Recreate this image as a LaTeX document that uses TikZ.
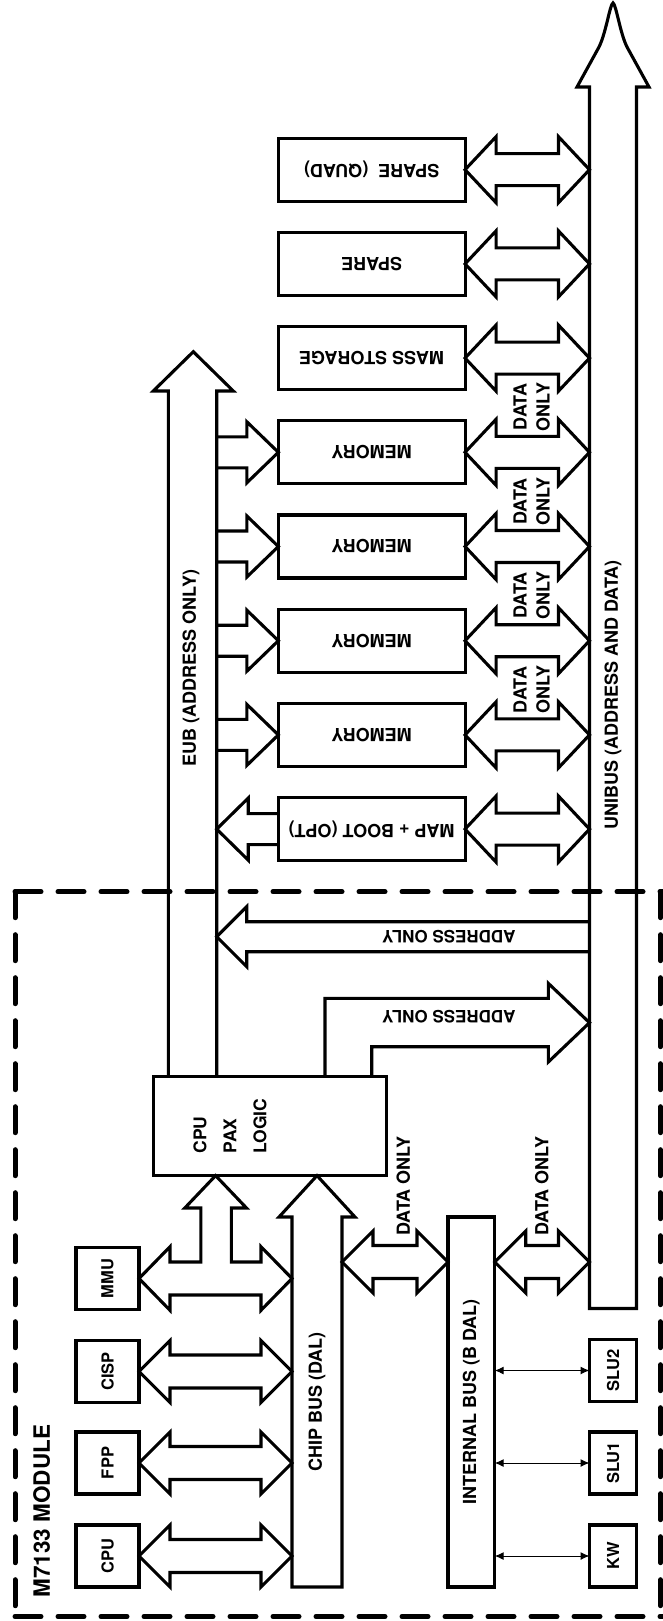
\documentclass[tikz,border=0pt]{standalone}
\usepackage{fontspec}
\setmainfont{TeX Gyre Heros}
\usetikzlibrary{arrows.meta,calc}
\newcommand\DblArrow[4]{\draw[fat] let \p1=#1, \p2=#2 in
  (\x1,\y1) -- (\x1+31pt,\y1+#3pt) -- (\x1+31pt,\y1+#4pt) -- (\x2-31pt,\y1+#4pt)
  -- (\x2-31pt,\y1+#3pt) -- (\x2,\y1) -- (\x2-31pt,\y1-#3pt) -- (\x2-31pt,\y1-#4pt)
  -- (\x1+31pt,\y1-#4pt) -- (\x1+31pt,\y1-#3pt) -- cycle;}
\begin{document}
\begin{tikzpicture}[x=1pt,y=-1pt,
  fat/.style={draw, line width=3.1pt, line join=miter},
  box/.style={draw, line width=3.1pt, inner sep=0pt, outer sep=0pt, anchor=center},
  lbl/.style={font=\fontsize{18}{23}\selectfont\bfseries, inner sep=0pt, align=center},
  slbl/.style={font=\fontsize{16.5}{20}\selectfont\bfseries},
  thinarr/.style={line width=1pt, {Latex[length=9pt,width=8pt]}-{Latex[length=9pt,width=8pt]}},
  border/.style={line width=5pt, dash pattern=on 26pt off 17pt, line cap=round}]
\useasboundingbox (0,0) rectangle (663,1621);

% module border
\draw[border] (15,891.7) -- (663,891.7);
\draw[border] (15,891.7) -- (15,1616.5);
\draw[border] (15,1616.5) -- (663,1616.5);
\draw[border] (660.5,891.7) -- (660.5,1616.5);
\node[lbl, font=\fontsize{22.5}{26}\selectfont\bfseries, rotate=90] (modlbl) at (41.7,1511) {M7133 MODULE};

% bus reference coordinates
\coordinate (eubR) at (216.7,0);
\coordinate (ubL) at (589.5,0);
\coordinate (chipL) at (292,0);
\coordinate (cb) at (342,1262);

% chip components
\node[box, minimum width=63pt, minimum height=62pt, slbl] (cpu) at (107.5,1556) {\rotatebox{90}{CPU}};
\node[box, minimum width=63pt, minimum height=62pt, slbl] (fpp) at (107.5,1463) {\rotatebox{90}{FPP}};
\node[box, minimum width=63pt, minimum height=62pt, slbl] (cisp) at (107.5,1371.5) {\rotatebox{90}{CISP}};
\node[box, minimum width=63pt, minimum height=62pt, slbl] (mmu) at (107.5,1278.5) {\rotatebox{90}{MMU}};

% CPU PAX logic
\node[box, minimum width=233.4pt, minimum height=98.3pt] (pax) at (270,1125.9) {};
\node[lbl, font=\fontsize{17.5}{30}\selectfont\bfseries, rotate=90, align=left] (paxlbl) at (230,1126) {CPU\\PAX\\LOGIC};

% chip bus
\draw[fat] (292,1587) -- (292,1217) -- (279,1217) -- (317,1175.6) -- (355,1217) -- (342,1217) -- (342,1587) -- cycle;
\node[lbl, rotate=90] (chiplbl) at (317,1402) {CHIP BUS (DAL)};

% chip component arrows
\DblArrow{(cpu.east)}{(chipL |- cpu.east)}{31}{16.5}
\DblArrow{(fpp.east)}{(chipL |- fpp.east)}{31}{16.5}
\DblArrow{(cisp.east)}{(chipL |- cisp.east)}{31}{16.5}
\draw[fat] (mmu.east) -- (170,1246.7) -- (170,1262) -- (200.8,1262) -- (200.8,1208) -- (184.8,1208)
  -- (215.6,1175.6) -- (246.5,1208) -- (231.3,1208) -- (231.3,1262) -- (261,1262) -- (261,1246.7)
  -- (292,1278.5) -- (261,1310.3) -- (261,1295) -- (170,1295) -- (170,1310.3) -- cycle;

% internal bus
\node[box, minimum width=46.7pt, minimum height=370pt] (ibus) at (471.35,1402) {\rotatebox{90}{\fontsize{18}{22}\selectfont\bfseries INTERNAL BUS (B DAL)}};
\DblArrow{(cb)}{(ibus.west |- cb)}{31}{16.5}
\DblArrow{(ibus.east |- cb)}{(ubL |- cb)}{31}{16.5}
\node[lbl, rotate=90] (do1) at (403.3,1186) {DATA ONLY};
\node[lbl, rotate=90] (do2) at (541.7,1186) {DATA ONLY};

% SLU / KW
\node[box, minimum width=47pt, minimum height=62pt, slbl] (slu2) at (613,1370.5) {\rotatebox{90}{SLU2}};
\node[box, minimum width=47pt, minimum height=62pt, slbl] (slu1) at (613,1463) {\rotatebox{90}{SLU1}};
\node[box, minimum width=47pt, minimum height=62pt, slbl] (kw) at (613,1556) {\rotatebox{90}{KW}};
\draw[thinarr] (ibus.east |- slu2.west) -- (slu2.west);
\draw[thinarr] (ibus.east |- slu1.west) -- (slu1.west);
\draw[thinarr] (ibus.east |- kw.west) -- (kw.west);

% EUB
\draw[fat] (168.3,1076.7) -- (168.3,391) -- (153.3,391) -- (193.3,351.7) -- (233.3,391) -- (216.7,391) -- (216.7,1076.7);
\node[lbl, rotate=90] (eublbl) at (191,668) {EUB (ADDRESS ONLY)};

% UNIBUS
\draw[fat] (589.5,1308.5) -- (589.5,87) -- (577,87) -- (599,47) .. controls (606,33) and (610,4) .. (613,3)
  .. controls (616,4) and (620,33) .. (627,47) -- (649,87) -- (636.5,87) -- (636.5,1308.5) -- cycle;
\node[lbl, rotate=90] (ublbl) at (613,695) {UNIBUS (ADDRESS AND DATA)};

% address only arrows
\draw[fat] (589.5,921.7) -- (246.7,921.7) -- (246.7,906.7) -- (216.7,936.7) -- (246.7,966.7) -- (246.7,951.7) -- (589.5,951.7);
\node[lbl, rotate=180, font=\fontsize{17}{20}\selectfont\bfseries] (ao1) at (449,936.7) {ADDRESS ONLY};
\draw[fat] (325,1076.7) -- (325,998.3) -- (548.3,998.3) -- (548.3,983.3) -- (589.5,1022.7) -- (548.3,1062) -- (548.3,1046.7) -- (371.7,1046.7) -- (371.7,1076.7);
\node[lbl, rotate=180, font=\fontsize{17}{20}\selectfont\bfseries] (ao2) at (449,1017) {ADDRESS ONLY};

% right column boxes
\node[box, minimum width=186.7pt, minimum height=63pt] (sq) at (371.7,169.7) {\rotatebox{180}{\fontsize{18}{22}\selectfont\bfseries SPARE\ \ (QUAD)}};
\node[box, minimum width=186.7pt, minimum height=63pt] (sp) at (371.7,263.9) {\rotatebox{180}{\fontsize{18}{22}\selectfont\bfseries SPARE}};
\node[box, minimum width=186.7pt, minimum height=63pt] (ms) at (371.7,358.1) {\rotatebox{180}{\fontsize{18}{22}\selectfont\bfseries MASS STORAGE}};
\node[box, minimum width=186.7pt, minimum height=63pt] (m1) at (371.7,452.3) {\rotatebox{180}{\fontsize{18}{22}\selectfont\bfseries MEMORY}};
\node[box, minimum width=186.7pt, minimum height=63pt] (m2) at (371.7,546.5) {\rotatebox{180}{\fontsize{18}{22}\selectfont\bfseries MEMORY}};
\node[box, minimum width=186.7pt, minimum height=63pt] (m3) at (371.7,640.7) {\rotatebox{180}{\fontsize{18}{22}\selectfont\bfseries MEMORY}};
\node[box, minimum width=186.7pt, minimum height=63pt] (m4) at (371.7,734.9) {\rotatebox{180}{\fontsize{18}{22}\selectfont\bfseries MEMORY}};
\node[box, minimum width=186.7pt, minimum height=63pt] (mb) at (371.7,829.1) {\rotatebox{180}{\fontsize{18}{22}\selectfont\bfseries MAP + BOOT (OPT)}};

\foreach \b in {sq,sp,ms,m1,m2,m3,m4,mb} {\DblArrow{(\b.east)}{(ubL |- \b.east)}{33}{16}}

% EUB to memory arrows
\foreach \b in {m1,m2,m3,m4} {
  \draw[fat] let \p1=(\b.west), \p2=(eubR) in
    (\x2,\y1+15.5pt) -- (\x1-31.5pt,\y1+15.5pt) -- (\x1-31.5pt,\y1+30.5pt) -- (\x1,\y1)
    -- (\x1-31.5pt,\y1-30.5pt) -- (\x1-31.5pt,\y1-15.5pt) -- (\x2,\y1-15.5pt);
}
% map+boot to EUB
\draw[fat] let \p1=(mb.west), \p2=(eubR) in
  (\x1,\y1+15.5pt) -- (\x2+31.5pt,\y1+15.5pt) -- (\x2+31.5pt,\y1+31pt) -- (\x2,\y1)
  -- (\x2+31.5pt,\y1-31pt) -- (\x2+31.5pt,\y1-15.5pt) -- (\x1,\y1-15.5pt);

% data only labels
\node[lbl, rotate=90] (d1) at (531.7,407) {DATA\\ONLY};
\node[lbl, rotate=90] (d2) at (531.7,501.5) {DATA\\ONLY};
\node[lbl, rotate=90] (d3) at (531.7,595.7) {DATA\\ONLY};
\node[lbl, rotate=90] (d4) at (531.7,689.9) {DATA\\ONLY};
\end{tikzpicture}
\end{document}
